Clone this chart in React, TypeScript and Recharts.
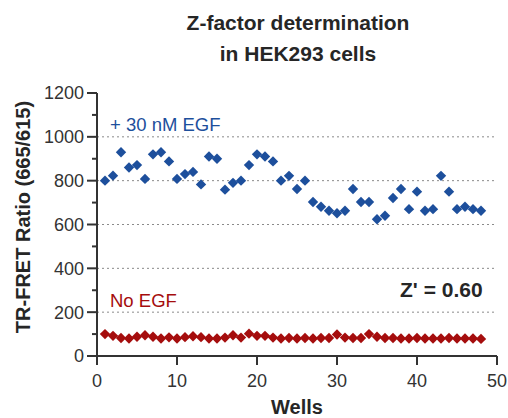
import React from 'react';
import { ScatterChart, Scatter, XAxis, YAxis, CartesianGrid } from 'recharts';

const wells = [1, 2, 3, 4, 5, 6, 7, 8, 9, 10, 11, 12, 13, 14, 15, 16, 17, 18, 19, 20, 21, 22, 23, 24, 25, 26, 27, 28, 29, 30, 31, 32, 33, 34, 35, 36, 37, 38, 39, 40, 41, 42, 43, 44, 45, 46, 47, 48];
const withEGF = [800, 823, 930, 860, 871, 808, 920, 930, 888, 808, 830, 840, 783, 910, 900, 759, 790, 800, 871, 920, 910, 888, 800, 822, 762, 800, 703, 681, 663, 651, 663, 762, 703, 703, 624, 640, 721, 762, 670, 750, 663, 670, 822, 750, 670, 681, 670, 663];
const noEGF = [100, 92, 82, 80, 88, 95, 88, 80, 85, 80, 86, 90, 86, 80, 80, 84, 95, 84, 102, 92, 92, 84, 80, 82, 80, 82, 80, 82, 82, 98, 84, 82, 82, 100, 88, 82, 82, 80, 80, 82, 80, 80, 80, 82, 80, 80, 80, 78];
const xTicks = [0, 10, 20, 30, 40, 50];
const yTicks = [0, 100, 200, 300, 400, 500, 600, 700, 800, 900, 1000, 1100, 1200];
const gridValues = [200, 400, 600, 800, 1000];

const BLUE = '#1d4f9c';
const RED = '#a50d0d';
const AXIS = '#333333';
const FONT = '"Liberation Sans", Arial, Helvetica, sans-serif';

const blueData = wells.map((w, i) => ({ x: w, y: withEGF[i] }));
const redData = wells.map((w, i) => ({ x: w, y: noEGF[i] }));

const Diamond = (color: string) => (props: any) => {
  const { cx, cy } = props;
  const r = 5.2;
  return <polygon points={`${cx},${cy - r} ${cx + r},${cy} ${cx},${cy + r} ${cx - r},${cy}`} fill={color} />;
};

const YTick = (props: any) => {
  const { x, y, payload } = props;
  const v = payload.value;
  const major = v % 200 === 0;
  const len = major ? 10 : 5;
  return (
    <g>
      <line x1={x - len} x2={x} y1={y} y2={y} stroke={AXIS} strokeWidth={2} />
      {major && (
        <text x={x - 13} y={y} dy="0.355em" textAnchor="end" fontSize={18} fill={AXIS} fontFamily={FONT}>
          {v}
        </text>
      )}
    </g>
  );
};

export default function App() {
  return (
    <div style={{ position: 'absolute', left: 0, top: 0, width: 508, height: 418, background: '#fff' }}>
      <ScatterChart width={508} height={418} margin={{ top: 93, right: 11, bottom: 22, left: 37 }}>
        <CartesianGrid horizontal={true} vertical={false} horizontalValues={gridValues} stroke="#8a8a8a" strokeDasharray="2 3" strokeWidth={1} />
        <XAxis
          type="number"
          dataKey="x"
          domain={[0, 50]}
          ticks={xTicks}
          height={40}
          axisLine={{ stroke: AXIS, strokeWidth: 2 }}
          tickLine={{ stroke: AXIS, strokeWidth: 2 }}
          tickSize={9}
          tickMargin={9}
          tick={{ fontSize: 18, fill: AXIS, fontFamily: FONT }}
          allowDecimals={false}
        />
        <YAxis
          type="number"
          dataKey="y"
          domain={[0, 1200]}
          ticks={yTicks}
          width={60}
          interval={0}
          axisLine={{ stroke: AXIS, strokeWidth: 2 }}
          tickLine={false}
          tickSize={0}
          tickMargin={0}
          tick={<YTick />}
        />
        <Scatter data={blueData} fill={BLUE} shape={Diamond(BLUE)} isAnimationActive={false} />
        <Scatter data={redData} fill={RED} shape={Diamond(RED)} isAnimationActive={false} />
      </ScatterChart>
      <svg width={508} height={418} style={{ position: 'absolute', left: 0, top: 0, pointerEvents: 'none' }}>
        <text x={298} y={30} textAnchor="middle" fontSize={21} fontWeight="bold" fill="#262626" fontFamily={FONT}>
          Z-factor determination
        </text>
        <text x={298} y={61} textAnchor="middle" fontSize={21} fontWeight="bold" fill="#262626" fontFamily={FONT}>
          in HEK293 cells
        </text>
        <text x={30} y={217} textAnchor="middle" fontSize={20} fontWeight="bold" fill="#262626" fontFamily={FONT} transform="rotate(-90 30 217)">
          TR-FRET Ratio (665/615)
        </text>
        <text x={297} y={414} textAnchor="middle" fontSize={20} fontWeight="bold" fill="#262626" fontFamily={FONT}>
          Wells
        </text>
        <text x={110} y={131} fontSize={18.5} fill={BLUE} fontFamily={FONT}>
          + 30 nM EGF
        </text>
        <text x={110} y={307} fontSize={18.5} fill={RED} fontFamily={FONT}>
          No EGF
        </text>
        <text x={400} y={297} fontSize={21} fontWeight="bold" fill="#262626" fontFamily={FONT}>
          Z' = 0.60
        </text>
      </svg>
    </div>
  );
}
